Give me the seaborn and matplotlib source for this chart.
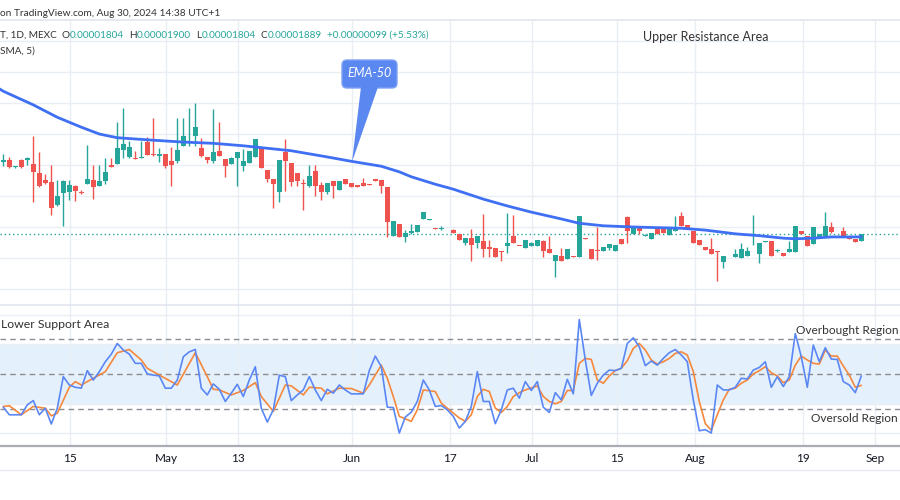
import numpy as np
import matplotlib
matplotlib.use("Agg")
import matplotlib.pyplot as plt
import matplotlib.transforms as mtransforms
from matplotlib.patches import FancyBboxPatch, Polygon
from matplotlib.lines import Line2D
import seaborn as sns

# ---------------- data (prices in units of 1e-8) ----------------
opens = [2005, 2008, 1997, 2008, 2008, 2002, 1987, 1976, 1973, 1936,
         1955, 1957, 1966, 1957, 1969, 1976, 1966, 1974, 2000, 2002,
         2024, 2013, 2012, 2011, 2037, 2018, 2015, 2018, 2006, 2006,
         2031, 2051, 2047, 2027, 2013, 2006, 2023, 2010, 2002, 2011,
         1998, 2003, 2013, 2029, 1992, 1977, 1957, 2021, 2003, 1987,
         1971, 1966, 1990, 1968, 1957, 1974, 1960, 1977, 1971, 1967,
         1971, 1969, 1977, 1976, 1965, 1886, 1905, 1884, 1890, 1892,
         1913, 1912, 1898, 1897, 1896, 1895, 1889, 1874, 1882, 1874,
         1877, 1867, 1866, 1861, 1869, 1886, 1870, 1866, 1869, 1869,
         1877, 1865, 1845, 1853, 1848, 1854, 1852, 1882, 1865, 1862,
         1861, 1866, 1861, 1881, 1916, 1889, 1898, 1886, 1881, 1898,
         1898, 1887, 1894, 1918, 1903, 1894, 1879, 1868, 1865, 1861,
         1844, 1851, 1852, 1850, 1853, 1872, 1857, 1876, 1877, 1862,
         1858, 1860, 1860, 1894, 1886, 1873, 1884, 1886, 1900, 1894,
         1894, 1884, 1881, 1877]
highs = [2018, 2013, 1998, 2010, 2013, 2047, 2021, 1986, 2000, 1976,
         1976, 1976, 1968, 1960, 2032, 2000, 2000, 2011, 2011, 2069,
         2092, 2039, 2023, 2039, 2045, 2076, 2027, 2018, 2029, 2076,
         2076, 2092, 2100, 2044, 2013, 2090, 2069, 2010, 2013, 2021,
         2026, 2023, 2042, 2029, 1992, 1977, 2008, 2042, 2003, 1987,
         1977, 2000, 2000, 1973, 1971, 1974, 1974, 1977, 1971, 1967,
         1979, 1969, 1977, 1976, 1965, 1910, 1905, 1895, 1905, 1903,
         1924, 1913, 1898, 1901, 1897, 1897, 1889, 1882, 1897, 1886,
         1921, 1879, 1866, 1861, 1923, 1919, 1870, 1879, 1876, 1879,
         1879, 1886, 1855, 1866, 1865, 1854, 1918, 1882, 1865, 1900,
         1868, 1873, 1871, 1881, 1918, 1898, 1898, 1889, 1890, 1898,
         1898, 1897, 1918, 1924, 1903, 1894, 1879, 1868, 1882, 1861,
         1853, 1852, 1865, 1874, 1868, 1919, 1874, 1877, 1877, 1865,
         1858, 1877, 1902, 1894, 1886, 1900, 1889, 1924, 1908, 1894,
         1900, 1884, 1881, 1889]
lows = [1998, 1995, 1995, 1995, 2000, 1940, 1965, 1969, 1919, 1934,
        1902, 1944, 1942, 1954, 1969, 1945, 1966, 1969, 1997, 2002,
        2011, 2011, 2010, 2011, 2016, 2015, 2005, 1995, 1966, 2003,
        2031, 2031, 2031, 2013, 2003, 2003, 2015, 1981, 2002, 1966,
        1990, 2003, 2013, 1995, 1973, 1931, 1940, 1958, 1966, 1966,
        1927, 1965, 1950, 1944, 1953, 1947, 1960, 1969, 1965, 1965,
        1966, 1967, 1974, 1955, 1884, 1886, 1884, 1876, 1889, 1892,
        1913, 1912, 1897, 1895, 1896, 1890, 1879, 1871, 1845, 1866,
        1852, 1852, 1852, 1845, 1858, 1874, 1869, 1866, 1869, 1869,
        1852, 1858, 1819, 1845, 1848, 1852, 1852, 1880, 1848, 1847,
        1861, 1863, 1861, 1873, 1874, 1889, 1889, 1886, 1881, 1889,
        1890, 1887, 1894, 1902, 1897, 1874, 1871, 1863, 1857, 1813,
        1834, 1851, 1852, 1850, 1853, 1871, 1842, 1876, 1853, 1860,
        1853, 1860, 1860, 1889, 1869, 1873, 1884, 1886, 1890, 1893,
        1884, 1881, 1876, 1877]
closes = [2008, 1997, 1998, 1997, 2011, 1989, 1966, 1971, 1931, 1950,
          1974, 1968, 1958, 1955, 1977, 1965, 1974, 1989, 1997, 2027,
          2034, 2029, 2010, 2013, 2016, 2016, 2018, 1998, 2000, 2024,
          2047, 2052, 2061, 2015, 2008, 2021, 2015, 1998, 2011, 2021,
          2006, 2023, 2042, 1995, 1977, 1969, 2008, 2006, 1973, 1974,
          1970, 1982, 1966, 1957, 1971, 1966, 1974, 1969, 1965, 1965,
          1966, 1967, 1974, 1966, 1908, 1910, 1884, 1890, 1894, 1903,
          1924, 1913, 1897, 1898, 1897, 1890, 1879, 1882, 1871, 1886,
          1865, 1865, 1852, 1859, 1874, 1874, 1869, 1879, 1874, 1879,
          1861, 1858, 1855, 1845, 1865, 1852, 1918, 1880, 1848, 1861,
          1868, 1873, 1871, 1873, 1894, 1898, 1894, 1887, 1890, 1889,
          1890, 1897, 1898, 1902, 1897, 1874, 1871, 1863, 1857, 1859,
          1853, 1852, 1857, 1865, 1861, 1873, 1874, 1877, 1853, 1863,
          1853, 1865, 1902, 1889, 1869, 1900, 1889, 1902, 1892, 1893,
          1884, 1881, 1876, 1889]

# EMA-50 (bar index, value)
ema_idx = [-1, 0, 5, 9, 13, 16, 19, 25, 30, 35, 40, 44, 48, 54, 58, 63, 66, 68,
           72, 75, 80, 84, 88, 93, 96, 100, 105, 113, 117, 122, 126, 130, 132,
           135, 138, 143]
ema_val = [2125, 2119, 2097, 2077, 2061, 2050, 2044, 2040, 2037, 2035, 2031, 2027,
           2023, 2013, 2006, 1998, 1989, 1981, 1969, 1961, 1945, 1934, 1924, 1913,
           1906, 1902, 1900, 1898, 1895, 1889, 1886, 1882, 1881, 1882, 1884, 1884]

# RSI (blue) per bar
rsi = [31.3, 27.0, 27.0, 27.0, 32.6, 35.0, 27.0, 30.7, 21.8, 30.7,
       48.5, 43.8, 42.5, 42.0, 51.9, 46.6, 51.3, 56.9, 61.2, 67.2,
       63.5, 61.2, 56.0, 56.0, 50.0, 49.4, 48.9, 42.0, 42.0, 46.6,
       59.7, 62.5, 63.8, 42.0, 38.2, 44.4, 41.4, 34.5, 39.2, 44.2,
       37.3, 46.6, 54.1, 30.7, 22.9, 29.8, 49.3, 48.5, 35.0, 38.2,
       41.0, 48.5, 41.0, 35.0, 41.4, 39.2, 43.8, 41.0, 38.8, 38.8,
       38.8, 51.9, 60.1, 54.1, 31.3, 31.1, 16.7, 25.7, 28.5, 34.5,
       46.6, 41.0, 31.7, 32.2, 29.8, 26.1, 19.5, 23.3, 31.7, 51.3,
       34.5, 34.5, 22.0, 29.8, 41.0, 42.0, 36.4, 45.7, 40.7, 45.7,
       31.3, 28.3, 39.5, 35.4, 47.0, 38.8, 80.7, 57.9, 37.9, 44.8,
       49.4, 52.2, 51.9, 53.2, 67.2, 70.4, 65.3, 54.7, 57.3, 55.0,
       58.8, 62.0, 63.8, 60.7, 56.9, 35.4, 18.0, 18.6, 16.7, 43.8,
       41.0, 41.0, 42.5, 47.6, 47.2, 52.2, 53.7, 56.9, 42.5, 48.5,
       42.9, 48.5, 72.8, 59.7, 42.5, 66.3, 56.9, 64.8, 58.4, 58.2,
       45.7, 43.8, 39.5, 48.9]

# RSI moving average (orange) (bar index, value)
ma_idx = [0, 1, 3, 5, 7, 8, 9, 11, 12, 13, 15, 17, 19, 21, 23, 24, 26, 29, 32, 34,
          35, 36, 38, 40, 42, 43, 45, 47, 48, 50, 51, 53, 54, 56, 58, 60, 61, 63,
          64, 65, 66, 68, 69, 70, 72, 73, 74, 76, 77, 78, 79, 80, 81, 82, 83, 84,
          85, 86, 87, 89, 90, 91, 92, 93, 94, 95, 96, 97, 98, 99, 100, 101, 102,
          103, 104, 105, 106, 107, 108, 109, 110, 111, 112, 113, 114, 115, 116,
          117, 118, 119, 120, 121, 122, 123, 124, 125, 126, 127, 128, 129, 130,
          131, 132, 133, 134, 135, 136, 137, 138, 139, 140, 141, 142, 143]
ma_val = [31.7, 32.1, 27.0, 31.7, 30.7, 26.4, 27.9, 42.5, 45.7, 43.8, 47.6, 51.3,
          62.0, 63.8, 57.9, 53.2, 49.4, 43.8, 62.0, 48.5, 41.4, 41.0, 38.2, 40.7,
          45.1, 37.3, 28.9, 43.8, 43.3, 38.2, 42.5, 42.0, 38.8, 42.0, 41.8, 39.2,
          43.8, 55.0, 47.6, 37.3, 26.1, 23.3, 29.8, 41.0, 40.1, 33.6, 30.7, 25.2,
          23.3, 27.0, 37.3, 41.4, 40.1, 30.7, 28.3, 31.7, 37.3, 39.5, 41.0, 43.3,
          37.3, 34.5, 33.2, 34.5, 40.7, 40.7, 56.0, 58.8, 58.2, 46.6, 44.8, 48.9,
          51.9, 53.2, 57.5, 64.4, 67.2, 63.5, 57.9, 55.6, 56.9, 58.8, 61.6, 62.5,
          60.7, 51.3, 34.5, 22.0, 18.3, 27.0, 35.4, 41.4, 42.0, 44.8, 46.6, 50.0,
          51.9, 54.1, 50.7, 48.9, 45.1, 46.6, 55.0, 60.1, 57.9, 56.0, 55.6, 63.5,
          60.1, 60.1, 54.5, 49.4, 42.5, 43.6]

tick_pos = [11.1, 27.1, 39.1, 58.1, 74.45, 88.1, 102.3, 115.3, 133.3, 145.3]
tick_labels = ["15", "May", "13", "Jun", "17", "Jul", "15", "Aug", "19", "Sep"]

last_close = 1889
legend_fields = ["O", "H", "L", "C"]
legend_values = ["0.00001804", "0.00001900", "0.00001804", "0.00001889"]
change_text = "+0.00000099 (+5.53%)"

# ---------------- style ----------------
sns.set_theme(style="white")
plt.rcParams["font.family"] = ["Lato", "DejaVu Sans"]

GREEN = "#26a69a"
RED = "#ef5350"
GRID = "#e9eef5"
TEXT = "#131722"
DARK = "#333333"
W, H = 900, 500

fig = plt.figure(figsize=(9, 5), dpi=100)
fig.patch.set_facecolor("white")


def fax(l, t, r, b):
    return fig.add_axes([l / W, 1 - b / H, (r - l) / W, (b - t) / H])


def ftext(x, y, s, **kw):
    kw.setdefault("va", "center")
    return fig.text(x / W, 1 - y / H, s, **kw)


ax = fax(0, 20, 900, 305)
axr = fax(0, 305, 900, 446)

for a in (ax, axr):
    a.set_facecolor("white")
    a.set_xlim(-0.55, 149.45)
    a.set_xticks(tick_pos)
    a.grid(True, color=GRID, linewidth=1)
    a.set_axisbelow(True)
    for s in a.spines.values():
        s.set_visible(False)

# ---------------- main pane ----------------
o = np.array(opens, float)
c = np.array(closes, float)
hi = np.array(highs, float)
lo = np.array(lows, float)
idx = np.arange(len(o))
cols = np.where(c >= o, GREEN, RED)

ax.vlines(idx, lo, hi, colors=cols, linewidth=1, zorder=3)
ax.bar(idx, np.maximum(np.abs(c - o), 1.3), bottom=np.minimum(o, c), width=0.74,
       color=cols, linewidth=0, zorder=4)

sns.lineplot(x=ema_idx, y=ema_val, ax=ax, color="#3f6ff2", linewidth=2.0, zorder=5)
ax.axhline(last_close, color=GREEN, linewidth=1, linestyle=(0, (1, 2)), zorder=2)

ax.set_ylim(1774.2, 2233.9)
ax.set_yticks(np.arange(1800, 2201, 50))
ax.tick_params(labelleft=False, labelbottom=False, length=0)
ax.set_xlabel("")
ax.set_ylabel("")
ax.spines["top"].set_visible(True)
ax.spines["top"].set_color("#e3e7ee")

# ---------------- RSI pane ----------------
axr.set_ylim(9.4, 88.9)
axr.set_yticks([16.67, 33.33, 50, 66.67, 83.33])
axr.axhspan(33.33, 66.67, color="#e4f1fc", zorder=0, linewidth=0)
for lv in (70, 50, 30):
    axr.axhline(lv, color="#8a8d96", linewidth=1, linestyle=(0, (4, 3)), zorder=1)
sns.lineplot(x=idx, y=rsi, ax=axr, color="#5b87f5", linewidth=1.2, zorder=4)
sns.lineplot(x=ma_idx, y=ma_val, ax=axr, color="#f5883c", linewidth=1.2, zorder=3)
axr.set_xticklabels(tick_labels)
axr.tick_params(axis="x", length=0, pad=5, labelsize=8.5, labelcolor=TEXT)
axr.tick_params(axis="y", labelleft=False, length=0)
axr.set_xlabel("")
axr.set_ylabel("")
axr.spines["top"].set_visible(True)
axr.spines["top"].set_color("#e3e7ee")
axr.spines["bottom"].set_visible(True)
axr.spines["bottom"].set_color("#a9acb5")
axr.spines["bottom"].set_linewidth(1.6)

fig.add_artist(Line2D([0, 1], [1 - 470 / H, 1 - 470 / H], color="#e6eaf0",
                      linewidth=1, transform=fig.transFigure))

# ---------------- texts ----------------
renderer = fig.canvas.get_renderer()
ftext(0, 13, "on TradingView.com, Aug 30, 2024 14:38 UTC+1", fontsize=7.3, color=DARK)

LFS = 7.2
pieces = [("T, 1D, MEXC", DARK, 5)]
for fld, val in zip(legend_fields, legend_values):
    pieces.append((fld, DARK, 0.3))
    pieces.append((val, GREEN, 5))
pieces.append((change_text, GREEN, 0))
cx = 0.0
for s, col, gap in pieces:
    t = ftext(cx, 35, s, fontsize=LFS, color=col)
    bb = t.get_window_extent(renderer)
    cx = bb.x1 + gap
ftext(0, 51, "SMA, 5)", fontsize=LFS, color=DARK)

ftext(643, 37, "Upper Resistance Area", fontsize=9, color=DARK)
ftext(1, 325, "Lower Support Area", fontsize=8.8, color=DARK)
ftext(898, 331, "Overbought Region", fontsize=8.6, color=DARK, ha="right")
ftext(898, 419, "Oversold Region", fontsize=8.6, color=DARK, ha="right")

# EMA-50 callout
ident = mtransforms.IdentityTransform()
box = FancyBboxPatch((342, H - 88), 55, 28, boxstyle="round,pad=0,rounding_size=5",
                     facecolor="#5b87f0", edgecolor="#7fa2f5", linewidth=1,
                     transform=ident, zorder=10)
fig.add_artist(box)
ptr = Polygon([(361, H - 87), (378, H - 87), (352, H - 162)], closed=True,
              facecolor="#5b87f0", edgecolor="none", transform=ident, zorder=10)
fig.add_artist(ptr)
ftext(369.5, 73, "EMA-50", fontsize=9, color="white", style="italic",
      ha="center", zorder=11)

fig.savefig("out.png", dpi=100, facecolor="white")
